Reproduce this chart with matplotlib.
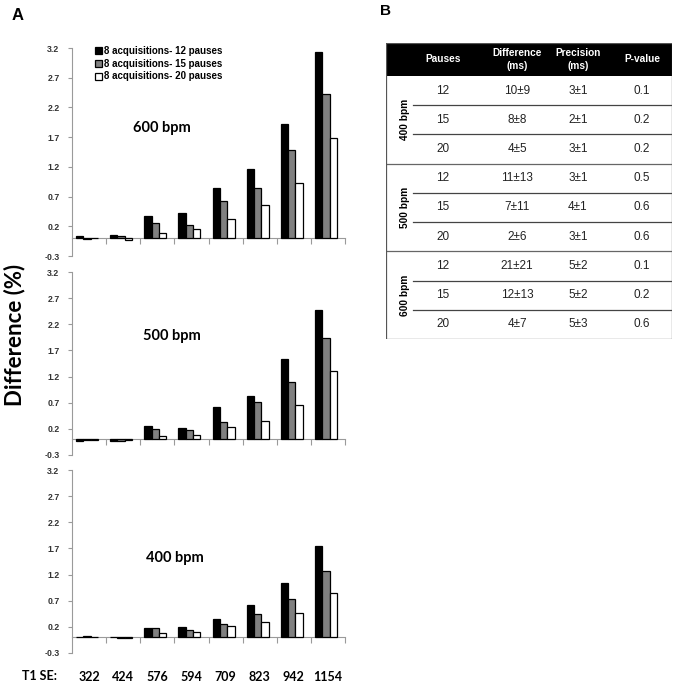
import matplotlib
matplotlib.use("Agg")
import matplotlib.pyplot as plt
import numpy as np
from matplotlib.patches import Rectangle

# ── data ──────────────────────────────────────────────────────────────────────
t1_se = ["322", "424", "576", "594", "709", "823", "942", "1154"]
series_labels = ["8 acquisitions- 12 pauses", "8 acquisitions- 15 pauses",
                 "8 acquisitions- 20 pauses"]

diff_600 = {
    12: [0.03, 0.06, 0.37, 0.43, 0.84, 1.16, 1.92, 3.14],
    15: [-0.02, 0.03, 0.26, 0.23, 0.62, 0.85, 1.49, 2.43],
    20: [0.00, -0.03, 0.08, 0.15, 0.33, 0.55, 0.92, 1.68],
}
diff_500 = {
    12: [-0.03, -0.03, 0.26, 0.21, 0.62, 0.82, 1.54, 2.48],
    15: [-0.02, -0.04, 0.19, 0.17, 0.34, 0.71, 1.09, 1.94],
    20: [-0.01, -0.02, 0.07, 0.09, 0.23, 0.35, 0.65, 1.31],
}
diff_400 = {
    12: [0.01, 0.01, 0.17, 0.19, 0.35, 0.61, 1.04, 1.75],
    15: [0.02, -0.02, 0.17, 0.14, 0.25, 0.45, 0.73, 1.26],
    20: [0.01, -0.02, 0.08, 0.11, 0.21, 0.30, 0.47, 0.85],
}

y_ticks = [-0.3, 0.2, 0.7, 1.2, 1.7, 2.2, 2.7, 3.2]

# table B
tbl_groups = ["400 bpm", "500 bpm", "600 bpm"]
tbl_pauses = ["12", "15", "20"] * 3
tbl_diff = ["10±9", "8±8", "4±5", "11±13", "7±11", "2±6", "21±21", "12±13", "4±7"]
tbl_prec = ["3±1", "2±1", "3±1", "3±1", "4±1", "3±1", "5±2", "5±2", "5±3"]
tbl_pval = ["0.1", "0.2", "0.2", "0.5", "0.6", "0.6", "0.1", "0.2", "0.6"]
tbl_header = ["Pauses", "Difference\n(ms)", "Precision\n(ms)", "P-value"]

# ── figure ────────────────────────────────────────────────────────────────────
W, H = 675, 683
fig = plt.figure(figsize=(W / 100, H / 100), dpi=100)

def px_axes(x0, y0, x1, y1):
    return fig.add_axes([x0 / W, 1 - y1 / H, (x1 - x0) / W, (y1 - y0) / H])

bar_colors = ["black", "#808080", "white"]
bw = 0.215
shift = -0.06
AX_COL = "#9a9a9a"


def bar_panel(ax, data, title, tx, ty, legend=False):
    x = np.arange(len(t1_se))
    handles = []
    for i, key in enumerate([12, 15, 20]):
        h = ax.bar(x + shift + (i - 1) * bw, data[key], width=bw,
                   color=bar_colors[i], edgecolor="black", linewidth=0.9,
                   zorder=3)
        handles.append(h)
    ax.set_xlim(-0.5, 7.5)
    ax.set_ylim(-0.3, 3.2)
    ax.set_yticks(y_ticks)
    ax.set_yticklabels([f"{v:.1f}" for v in y_ticks], fontsize=6.3,
                       fontweight="bold", color="#333333",
                       family="Liberation Sans")
    ax.spines["top"].set_visible(False)
    ax.spines["right"].set_visible(False)
    ax.spines["left"].set_color(AX_COL)
    ax.spines["bottom"].set_position(("data", 0))
    ax.spines["bottom"].set_color(AX_COL)
    ax.tick_params(axis="y", length=3, color=AX_COL, pad=6)
    ax.set_xticks(np.arange(0.5, 8.0, 1.0))
    ax.set_xticklabels([])
    ax.tick_params(axis="x", direction="out", length=4, color=AX_COL)
    ax.patch.set_alpha(0)
    ax.text(tx, ty, title, transform=fig.transFigure, fontsize=10.5,
            fontweight="bold", family="Lato", ha="left", va="center")
    if legend:
        ax.legend(handles, series_labels, loc="upper left",
                  bbox_to_anchor=(0.07, 1.03), frameon=False,
                  handlelength=0.75, handleheight=0.75, handletextpad=0.15,
                  labelspacing=0.3, borderaxespad=0,
                  prop={"family": "Liberation Sans", "weight": "bold",
                        "size": 7.0})


ax1 = px_axes(72, 48, 345, 256)
bar_panel(ax1, diff_600, "600 bpm", 133 / W, 1 - 128 / H, legend=True)
ax2 = px_axes(72, 272, 345, 455)
bar_panel(ax2, diff_500, "500 bpm", 143 / W, 1 - 336 / H)
ax3 = px_axes(72, 470, 345, 653)
bar_panel(ax3, diff_400, "400 bpm", 146 / W, 1 - 558 / H)

# category labels under the bottom panel
for i, lab in enumerate(t1_se):
    ax3.text(i, -0.75, lab, ha="center", va="center", fontsize=9,
             fontweight="bold", family="Lato")
fig.text(40 / W, 1 - 676 / H, "T1 SE:", ha="center", va="center",
         fontsize=9, fontweight="bold", family="Lato")

fig.text(15 / W, 1 - 335 / H, "Difference (%)", rotation=90, ha="center",
         va="center", fontsize=16, fontweight="bold", family="Lato")
fig.text(12 / W, 1 - 16 / H, "A", fontsize=12, fontweight="bold",
         family="Liberation Sans", va="center")
fig.text(380 / W, 1 - 11 / H, "B", fontsize=11, fontweight="bold",
         family="Liberation Sans", va="center")

# ── table B ───────────────────────────────────────────────────────────────────
tx0, tx1, ty0, ty1 = 386, 672, 43, 339
hdr_bottom = 76
axt = px_axes(tx0, ty0, tx1, ty1)
axt.set_xlim(tx0, tx1)
axt.set_ylim(ty1, ty0)
axt.axis("off")

axt.add_patch(Rectangle((tx0, ty0), tx1 - tx0, hdr_bottom - ty0,
                        facecolor="black", edgecolor="none"))
axt.add_patch(Rectangle((tx0, ty0), tx1 - tx0, ty1 - ty0, facecolor="none",
                        edgecolor="#555555", linewidth=0.9, zorder=5))

col_x = [443, 517, 578, 642]
for cx, lab in zip(col_x, tbl_header):
    axt.text(cx, (ty0 + hdr_bottom) / 2, lab, color="white", ha="center",
             va="center", fontsize=7.3, fontweight="bold",
             family="Liberation Sans", linespacing=1.4)

n_rows = len(tbl_pauses)
row_h = (ty1 - hdr_bottom) / n_rows
label_col_right = 413
for r in range(n_rows):
    yc = hdr_bottom + (r + 0.5) * row_h
    for cx, val in zip(col_x, [tbl_pauses[r], tbl_diff[r], tbl_prec[r],
                               tbl_pval[r]]):
        axt.text(cx, yc, val, ha="center", va="center", fontsize=8.5,
                 family="Liberation Sans", color="#222222")
    if r < n_rows - 1:
        yl = hdr_bottom + (r + 1) * row_h
        if (r + 1) % 3 == 0:
            axt.plot([tx0, tx1], [yl, yl], color="#666666", linewidth=0.9)
        else:
            axt.plot([label_col_right, tx1], [yl, yl], color="#444444",
                     linewidth=0.9)

for g, lab in enumerate(tbl_groups):
    yc = hdr_bottom + (g * 3 + 1.5) * row_h
    axt.text(405, yc, lab, rotation=90, ha="center", va="center",
             fontsize=7.3, fontweight="bold", family="Liberation Sans")

fig.savefig("out.png", dpi=100)
